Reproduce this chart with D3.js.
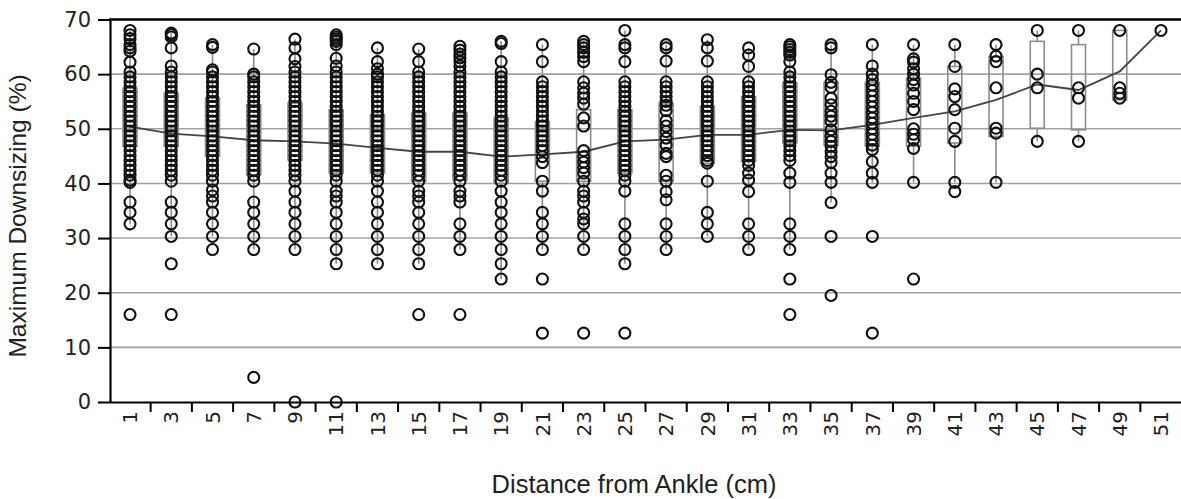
<!DOCTYPE html>
<html>
<head>
<meta charset="utf-8">
<script src="https://cdn.jsdelivr.net/npm/d3@7"></script>
<style>
  body { margin: 0; background: #fff; }
  svg { display: block; }
</style>
</head>
<body>
<div id="chart"></div>
<script>
// Categories: distance from ankle (cm)
const distances = [1, 3, 5, 7, 9, 11, 13, 15, 17, 19, 21, 23, 25, 27, 29, 31, 33, 35, 37, 39, 41, 43, 45, 47, 49, 51];

// Line through the columns (mean downsizing per distance)
const meanValues = [50.4, 49.1, 48.6, 47.9, 47.7, 47.3, 46.5, 45.8, 45.8, 44.9, 45.3, 45.8, 47.7,
    48.0, 48.9, 48.9, 49.8, 49.7, 50.7, 52.0, 53.2, 55.3, 58.1, 57.1, 60.5, 68.0];

// Box plot stats
const q1Values = [46.8, 46.8, 45.0, 41.6, 44.3, 41.9, 41.9, 40.4, 40.7, 40.0, 40.4, 40.4, 41.9,
    40.4, 43.7, 44.0, 47.4, 47.0, 46.8, 46.8, 47.4, 48.6, 50.1, 49.8, 55.3, 68.0];
const q3Values = [57.4, 56.5, 55.6, 54.4, 54.7, 53.5, 52.6, 52.9, 52.9, 52.0, 51.3, 53.5, 53.5,
    54.7, 54.1, 55.9, 58.4, 58.5, 58.5, 59.3, 61.4, 63.2, 66.0, 65.4, 68.0, 68.0];
const whiskerLow = [32.6, 30.3, 30.3, 27.9, 27.9, 25.3, 25.3, 25.3, 27.9, 22.5, 27.9, 27.9, 25.3,
    27.9, 30.3, 27.9, 27.9, 36.5, 40.2, 40.2, 40.2, 40.2, 47.7, 47.7, 55.3, 68.0];
const whiskerHigh = [68.0, 67.5, 65.4, 64.6, 66.4, 67.2, 64.8, 64.6, 65.1, 66.0, 65.4, 66.0, 68.0,
    65.4, 66.3, 64.8, 65.4, 65.4, 65.4, 65.4, 65.4, 65.4, 68.0, 68.0, 68.0, 68.0];

// Individual measurements per distance
const pointValues = [
    [68.0, 67.2, 66.5, 65.4, 64.8, 64.2, 62.2, 60.4, 59.5, 58.6, 57.7, 56.8, 55.9, 55.0, 54.1, 53.2, 52.3, 51.4, 50.5,
     49.6, 48.7, 47.8, 46.9, 46.0, 45.1, 44.2, 43.3, 42.4, 41.5, 40.6, 40.2, 36.6, 34.7, 32.6, 16.0],
    [67.5, 67.2, 66.8, 64.8, 61.5, 60.4, 59.5, 58.6, 57.7, 56.8, 55.9, 55.0, 54.1, 53.2, 52.3, 51.4, 50.5, 49.6,
     48.7, 47.8, 46.9, 46.0, 45.1, 44.2, 43.3, 42.4, 41.5, 40.4, 36.6, 34.7, 32.6, 30.3, 25.3, 16.0],
    [65.4, 64.9, 60.8, 60.4, 59.5, 58.6, 57.7, 56.8, 55.9, 55.0, 54.1, 53.2, 52.3, 51.4, 50.5, 49.6, 48.7, 47.8,
     46.9, 46.0, 45.1, 44.2, 43.3, 42.4, 41.5, 40.4, 38.8, 37.7, 36.6, 34.7, 32.6, 30.3, 27.9],
    [64.6, 60.0, 59.5, 58.6, 57.7, 56.8, 55.9, 55.0, 54.1, 53.2, 52.3, 51.4, 50.5, 49.6, 48.7, 47.8, 46.9, 46.0,
     45.1, 44.2, 43.3, 42.4, 41.5, 40.4, 36.6, 34.7, 32.6, 30.3, 27.9, 4.5],
    [66.4, 64.8, 62.8, 61.4, 60.4, 59.5, 58.6, 57.7, 56.8, 55.9, 55.0, 54.1, 53.2, 52.3, 51.4, 50.5, 49.6, 48.7,
     47.8, 46.9, 46.0, 45.1, 44.2, 43.3, 42.4, 41.5, 40.4, 38.6, 36.6, 34.7, 32.6, 30.3, 27.9, 0.0],
    [67.2, 66.8, 66.4, 66.0, 65.4, 62.9, 61.5, 60.4, 59.5, 58.6, 57.7, 56.8, 55.9, 55.0, 54.1, 53.2, 52.3, 51.4,
     50.5, 49.6, 48.7, 47.8, 46.9, 46.0, 45.1, 44.2, 43.3, 42.4, 41.5, 40.4, 38.6, 37.7, 36.6, 34.7, 32.6, 30.3,
     27.9, 25.3, 0.0],
    [64.8, 62.3, 61.0, 60.0, 59.5, 58.6, 57.7, 56.8, 55.9, 55.0, 54.1, 53.2, 52.3, 51.4, 50.5, 49.6, 48.7, 47.8,
     46.9, 46.0, 45.1, 44.2, 43.3, 42.4, 41.5, 40.4, 38.6, 36.6, 34.7, 32.6, 30.3, 27.9, 25.3],
    [64.6, 62.3, 60.4, 59.5, 58.6, 57.7, 56.8, 55.9, 55.0, 54.1, 53.2, 52.3, 51.4, 50.5, 49.6, 48.7, 47.8, 46.9,
     46.0, 45.1, 44.2, 43.3, 42.4, 41.5, 40.4, 38.6, 37.7, 36.6, 34.7, 32.6, 30.3, 27.9, 25.3, 16.0],
    [65.1, 64.4, 63.7, 63.0, 62.3, 61.5, 60.4, 59.5, 58.6, 57.7, 56.8, 55.9, 55.0, 54.1, 53.2, 52.3, 51.4, 50.5,
     49.6, 48.7, 47.8, 46.9, 46.0, 45.1, 44.2, 43.3, 42.4, 41.5, 40.4, 38.6, 37.7, 36.6, 32.6, 30.3, 27.9, 16.0],
    [66.0, 65.6, 62.3, 60.4, 59.5, 58.6, 57.7, 56.8, 55.9, 55.0, 54.1, 53.2, 52.3, 51.4, 50.5, 49.6, 48.7, 47.8,
     46.9, 46.0, 45.1, 44.2, 43.3, 42.4, 41.5, 40.4, 38.6, 36.6, 34.7, 32.6, 30.3, 27.9, 25.3, 22.5],
    [65.4, 62.3, 58.6, 57.7, 56.8, 55.9, 55.0, 54.1, 53.2, 52.3, 51.4, 50.5, 49.6, 48.7, 47.8, 46.9, 46.0, 44.9,
     43.8, 40.4, 38.6, 34.7, 32.6, 30.3, 27.9, 22.5, 12.6],
    [66.0, 65.4, 64.8, 64.0, 63.2, 62.3, 58.6, 57.5, 56.5, 55.6, 54.5, 52.0, 50.5, 46.0, 44.9, 43.9, 42.9, 41.9,
     40.4, 38.6, 37.7, 36.6, 34.7, 33.5, 32.6, 30.3, 27.9, 12.6],
    [68.0, 65.4, 64.8, 62.3, 58.6, 57.7, 56.8, 55.9, 55.0, 54.1, 53.2, 52.3, 51.4, 50.5, 49.6, 48.7, 47.8, 46.9,
     46.0, 45.1, 44.2, 43.3, 42.4, 41.5, 40.4, 38.6, 32.6, 30.3, 27.9, 25.3, 12.6],
    [65.4, 64.8, 62.4, 58.6, 57.7, 56.8, 55.9, 55.0, 54.3, 53.3, 51.5, 50.5, 49.5, 48.3, 47.0, 45.5, 44.9, 41.5,
     40.4, 38.5, 37.0, 32.6, 30.3, 27.9],
    [66.3, 64.8, 62.4, 58.6, 57.7, 56.8, 55.9, 55.0, 54.1, 53.2, 52.3, 51.4, 50.5, 49.6, 48.7, 47.8, 46.9, 46.0,
     45.1, 44.2, 43.7, 40.4, 34.7, 32.6, 30.3],
    [64.8, 63.5, 61.4, 58.6, 57.7, 56.8, 55.9, 55.0, 54.1, 53.2, 52.3, 51.4, 50.5, 49.6, 48.7, 47.8, 46.9, 46.0,
     45.1, 44.2, 43.3, 41.9, 40.6, 38.5, 32.6, 30.3, 27.9],
    [65.4, 65.0, 64.5, 64.0, 63.5, 62.3, 60.4, 59.5, 58.6, 57.7, 56.8, 55.9, 55.0, 54.1, 53.2, 52.3, 51.4, 50.5,
     49.6, 48.7, 47.8, 46.9, 46.0, 45.1, 44.2, 41.9, 40.2, 32.6, 30.3, 27.9, 22.5, 16.0],
    [65.4, 64.8, 59.9, 58.5, 57.6, 55.6, 54.4, 53.2, 52.3, 51.4, 49.8, 48.6, 47.7, 46.8, 45.8, 44.9, 43.8, 41.9,
     40.2, 36.5, 30.3, 19.5],
    [65.4, 61.5, 60.0, 59.0, 58.0, 57.0, 56.0, 55.0, 54.0, 53.0, 52.0, 51.0, 50.0, 49.0, 48.0, 47.0, 46.2, 44.0,
     41.9, 40.2, 30.3, 12.6],
    [65.4, 62.8, 62.2, 61.0, 60.0, 59.0, 58.0, 56.5, 55.0, 53.5, 50.0, 49.0, 48.0, 46.4, 40.2, 22.5],
    [65.4, 61.4, 57.3, 55.9, 53.5, 50.1, 47.7, 40.2, 38.5],
    [65.4, 63.3, 62.3, 57.5, 50.1, 49.2, 40.2],
    [68.0, 60.0, 57.5, 47.7],
    [68.0, 57.5, 55.6, 47.7],
    [68.0, 57.5, 56.5, 55.6],
    [68.0]
];

const yTicks = [0, 10, 20, 30, 40, 50, 60, 70];
const gridValues = [10, 20, 30, 40, 50, 60];

const W = 1181, H = 499;

// Scales
const x = d3.scaleBand().domain(distances).range([109.4, 1181.6]).padding(0);
const y = d3.scaleLinear().domain([0, 70]).range([402, 19.5]);
const cx = d => x(d) + x.bandwidth() / 2;
const boxW = 14;

const svg = d3.select("#chart").append("svg")
    .attr("width", W)
    .attr("height", H);

// Horizontal grid lines
svg.append("g").selectAll("line")
    .data(gridValues)
    .join("line")
    .attr("x1", 110).attr("x2", W)
    .attr("y1", d => y(d)).attr("y2", d => y(d))
    .attr("stroke", "#a3a3a3")
    .attr("stroke-width", 1.6);

// Rows of stats per distance
const rows = distances.map((d, i) => ({
    dist: d, mean: meanValues[i], q1: q1Values[i], q3: q3Values[i],
    lo: whiskerLow[i], hi: whiskerHigh[i], pts: pointValues[i]
}));

// Whiskers (outside the box only)
const boxes = svg.append("g");
boxes.selectAll("line.whisk-lo")
    .data(rows.filter(r => r.lo < r.q1))
    .join("line")
    .attr("class", "whisk-lo")
    .attr("x1", r => cx(r.dist)).attr("x2", r => cx(r.dist))
    .attr("y1", r => y(r.lo)).attr("y2", r => y(r.q1))
    .attr("stroke", "#8c8c8c").attr("stroke-width", 1.6);
boxes.selectAll("line.whisk-hi")
    .data(rows.filter(r => r.hi > r.q3))
    .join("line")
    .attr("class", "whisk-hi")
    .attr("x1", r => cx(r.dist)).attr("x2", r => cx(r.dist))
    .attr("y1", r => y(r.q3)).attr("y2", r => y(r.hi))
    .attr("stroke", "#8c8c8c").attr("stroke-width", 1.6);

// Boxes (Q1 to Q3)
boxes.selectAll("rect")
    .data(rows.filter(r => r.q3 > r.q1))
    .join("rect")
    .attr("x", r => cx(r.dist) - boxW / 2)
    .attr("width", boxW)
    .attr("y", r => y(r.q3))
    .attr("height", r => y(r.q1) - y(r.q3))
    .attr("fill", "none")
    .attr("stroke", "#8c8c8c")
    .attr("stroke-width", 1.6);

// Mean line
const line = d3.line()
    .x(r => cx(r.dist))
    .y(r => y(r.mean));
svg.append("path")
    .datum(rows)
    .attr("d", line)
    .attr("fill", "none")
    .attr("stroke", "#454545")
    .attr("stroke-width", 1.8);

// Individual points
const pts = rows.flatMap(r => r.pts.map(v => ({ dist: r.dist, value: v })));
svg.append("g").selectAll("circle")
    .data(pts)
    .join("circle")
    .attr("cx", p => cx(p.dist))
    .attr("cy", p => y(p.value))
    .attr("r", 5.5)
    .attr("fill", "none")
    .attr("stroke", "#111")
    .attr("stroke-width", 2.1);

// Top frame line
svg.append("line")
    .attr("x1", 109).attr("x2", W)
    .attr("y1", y(70)).attr("y2", y(70))
    .attr("stroke", "#000").attr("stroke-width", 2.5);

// Y axis
const yAxis = svg.append("g")
    .attr("transform", "translate(110,0)")
    .call(d3.axisLeft(y).tickValues(yTicks).tickSize(12).tickSizeOuter(0).tickPadding(7));
yAxis.select(".domain").attr("stroke", "#000").attr("stroke-width", 2.2);
yAxis.selectAll(".tick line").attr("stroke", "#000").attr("stroke-width", 2);
yAxis.selectAll(".tick text")
    .attr("fill", "#222")
    .style("font-family", "'DejaVu Sans', Verdana, sans-serif")
    .style("font-size", "21px");

// X axis: labels at band centres, rotated
const xAxis = svg.append("g")
    .attr("transform", `translate(0,${y(0)})`)
    .call(d3.axisBottom(x).tickSize(0).tickSizeOuter(0));
xAxis.select(".domain").attr("stroke", "#000").attr("stroke-width", 2.2);
xAxis.selectAll(".tick text")
    .attr("x", 0).attr("y", 0)
    .attr("dy", "0.36em")
    .attr("transform", "translate(0,9) rotate(-90)")
    .style("text-anchor", "end")
    .attr("fill", "#222")
    .style("font-family", "'DejaVu Sans', Verdana, sans-serif")
    .style("font-size", "20px");

// X tick marks sit between categories
svg.append("g").selectAll("line")
    .data(distances.slice(1))
    .join("line")
    .attr("x1", d => x(d)).attr("x2", d => x(d))
    .attr("y1", y(0)).attr("y2", y(0) + 10)
    .attr("stroke", "#000").attr("stroke-width", 2);

// Axis titles
svg.append("text")
    .attr("transform", "translate(26,216) rotate(-90)")
    .attr("text-anchor", "middle")
    .style("font-family", "'Liberation Sans', Arial, sans-serif")
    .style("font-size", "24.5px")
    .attr("fill", "#222")
    .text("Maximum Downsizing (%)");

svg.append("text")
    .attr("x", 634).attr("y", 493)
    .attr("text-anchor", "middle")
    .style("font-family", "'Liberation Sans', Arial, sans-serif")
    .style("font-size", "25.5px")
    .attr("fill", "#222")
    .text("Distance from Ankle (cm)");
</script>
</body>
</html>
